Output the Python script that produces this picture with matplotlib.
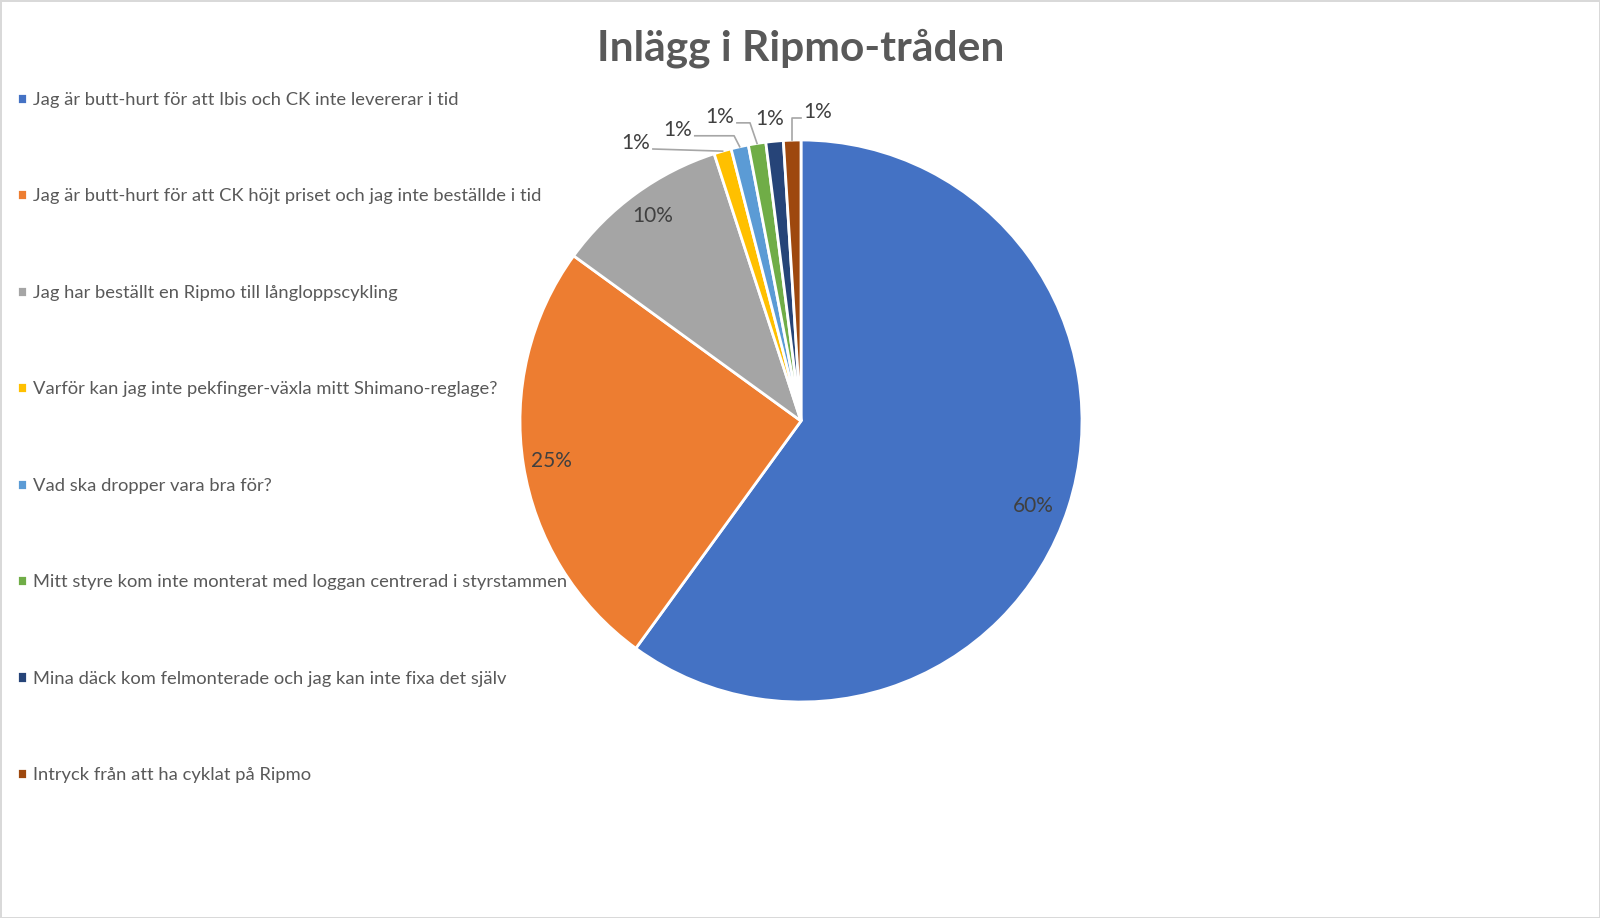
import matplotlib
matplotlib.use("Agg")
import matplotlib.pyplot as plt
import numpy as np

# data
categories = [
    "Jag är butt-hurt för att Ibis och CK inte levererar i tid",
    "Jag är butt-hurt för att CK höjt priset och jag inte beställde i tid",
    "Jag har beställt en Ripmo till långloppscykling",
    "Varför kan jag inte pekfinger-växla mitt Shimano-reglage?",
    "Vad ska dropper vara bra för?",
    "Mitt styre kom inte monterat med loggan centrerad i styrstammen",
    "Mina däck kom felmonterade och jag kan inte fixa det själv",
    "Intryck från att ha cyklat på Ripmo",
]
values = [60, 25, 10, 1, 1, 1, 1, 1]
colors = ["#4472C4", "#ED7D31", "#A5A5A5", "#FFC000",
          "#5B9BD5", "#70AD47", "#264478", "#9E480E"]
title = "Inlägg i Ripmo-tråden"

plt.rcParams['font.family'] = ['Lato', 'DejaVu Sans']

W, H = 1600, 918
fig = plt.figure(figsize=(W / 100, H / 100), dpi=100)
fig.patch.set_facecolor("white")
fig.patch.set_edgecolor("#D9D9D9")
fig.patch.set_linewidth(2)

# pie area: centre (801, 421) px, radius 281 px
cx, cy, r = 801, 421, 281
ax = fig.add_axes([(cx - r) / W, (H - cy - r) / H, 2 * r / W, 2 * r / H])

total = sum(values)
wedges, _ = ax.pie(values, colors=colors, startangle=90, counterclock=False,
                   wedgeprops=dict(edgecolor="white", linewidth=2))
ax.set_xlim(-1, 1)
ax.set_ylim(-1, 1)
ax.set_aspect("equal")
ax.axis("off")

# big slices: labels inside
inner_dist = [0.88, 0.9, 0.9]
inner_shift = [-2.0, 0.0, 0.0]   # degrees
for w, v, d, s in zip(wedges[:3], values[:3], inner_dist, inner_shift):
    ang = np.deg2rad((w.theta1 + w.theta2) / 2 + s)
    ax.text(d * np.cos(ang), d * np.sin(ang), f"{v / total:.0%}",
            ha="center", va="center", fontsize=15, color="#404040")

# small slices: labels outside with leader lines
small_pos = [(-0.587, 0.989), (-0.438, 1.036), (-0.288, 1.082),
             (-0.110, 1.075), (0.060, 1.100)]
elbow_dx = [None, -0.02, -0.025, None, 0.0]
draw_line = [True, True, True, False, True]
for w, v, (tx, ty), edx, dl in zip(wedges[3:], values[3:], small_pos,
                                  elbow_dx, draw_line):
    ax.text(tx, ty, f"{v / total:.0%}", ha="center", va="center",
            fontsize=15, color="#404040")
    if not dl:
        continue
    ang = np.deg2rad((w.theta1 + w.theta2) / 2)
    axx, ayy = np.cos(ang), np.sin(ang)
    half = 0.06
    sy = ty - 0.021
    if tx < axx:
        sx = tx + half
    else:
        sx = tx - half
    if edx is None:
        xs, ys = [sx, axx], [sy, ayy]
    else:
        xs, ys = [sx, axx + edx, axx], [sy, sy, ayy]
    ax.plot(xs, ys, color="#A6A6A6", lw=1.2, clip_on=False)

fig.text(cx / W, 1 - 48 / H, title, ha="center", va="center",
         fontsize=30.6, fontweight="bold", color="#595959")

leg = fig.legend(wedges, categories, loc="upper left",
                 bbox_to_anchor=(17 / W, 1 - 92 / H), frameon=False,
                 fontsize=13.25, labelcolor="#595959", handlelength=0.55,
                 handleheight=0.55, handletextpad=0.3, labelspacing=4.37,
                 borderpad=0, borderaxespad=0)

fig.savefig("out.png", dpi=100)
